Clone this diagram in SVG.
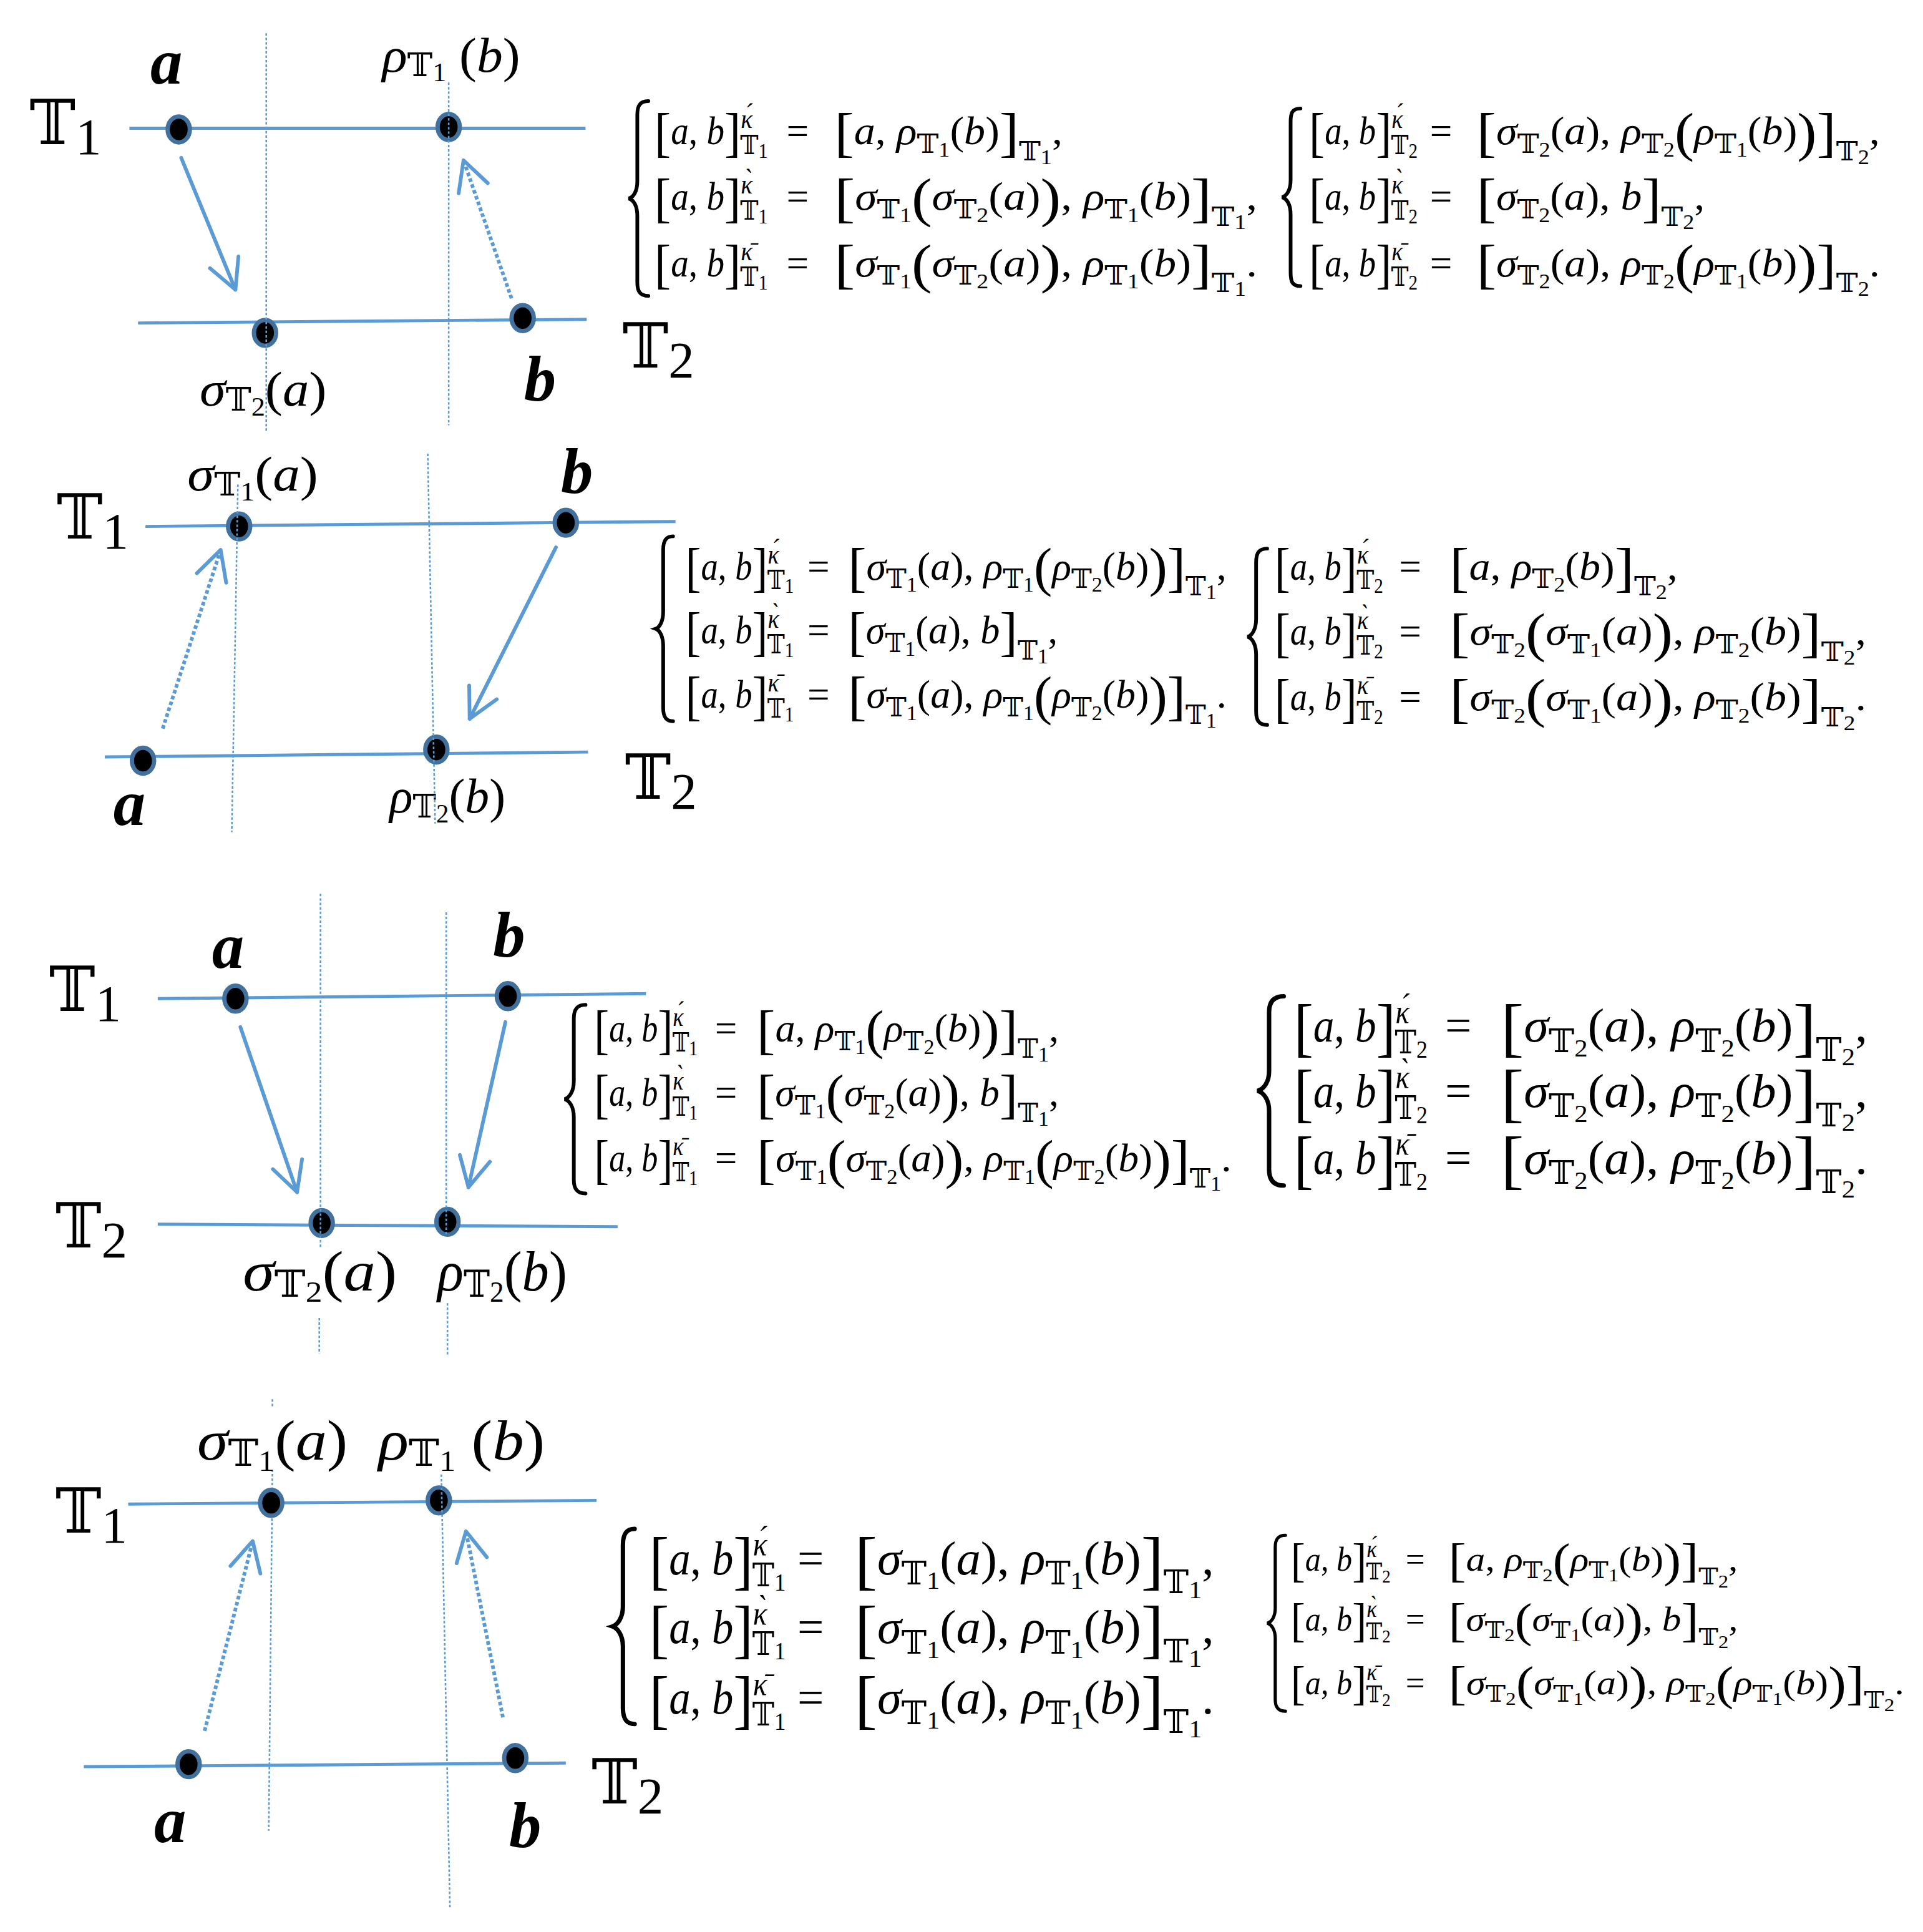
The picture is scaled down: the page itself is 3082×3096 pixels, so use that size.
<svg xmlns="http://www.w3.org/2000/svg" width="3082" height="3096" viewBox="0 0 3082 3096">
<defs>
<style>
.ln{stroke:#5b9bd5;stroke-width:2.5;fill:none}
.vd{stroke:#5b9bd5;stroke-width:1.3;stroke-dasharray:2 1.6;fill:none}
.ar{stroke:#5b9bd5;stroke-width:3;fill:none;stroke-linecap:round;marker-end:url(#ah)}
.ard{stroke:#5b9bd5;stroke-width:3;fill:none;stroke-dasharray:3 2;marker-end:url(#ah)}
.dot{fill:#000;stroke:#41719c;stroke-width:3.5}
.br{fill:none;stroke:#000;stroke-width:3;stroke-linecap:round}
.m{font-family:"Liberation Serif","DejaVu Serif","DejaVu Sans",serif;font-size:32px;fill:#000}
.i{font-style:italic}
.s{font-size:22px}
.ss{font-size:17px}
.B{font-size:44px}
.sc{font-size:22px}
.lab{font-family:"Liberation Serif","DejaVu Serif","DejaVu Sans",serif;font-size:40px;fill:#000}
.lab46{font-family:"Liberation Serif","DejaVu Serif","DejaVu Sans",serif;font-size:46px;fill:#000}
.ls{font-size:26px}
.lss{font-size:21px}
.ls46{font-size:30px}
.lss46{font-size:24px}
.lb{font-family:"Liberation Serif",serif;font-weight:bold;font-style:italic;font-size:52px;fill:#000}
.ax{font-family:"DejaVu Serif","DejaVu Sans",serif;font-size:50px;fill:#000}
.axd{font-family:"Liberation Serif",serif;font-size:42px}
</style>
<marker id="ah" markerUnits="userSpaceOnUse" orient="auto" refX="0" refY="0" markerWidth="60" markerHeight="60" viewBox="-30 -30 60 60" overflow="visible"><path d="M-24,-12.5 L0,0 L-24,12.5" fill="none" stroke="#5b9bd5" stroke-width="3" stroke-linecap="round" stroke-linejoin="round"/></marker>
</defs>
<rect width="3082" height="3096" fill="#fff"/>
<g id="diagram" transform="scale(1.97564)">
<g id="axes">
<line class="ln" x1="105" y1="104" x2="475" y2="104"/>
<line class="ln" x1="112" y1="262" x2="476" y2="259"/>
<line class="ln" x1="118" y1="427" x2="548" y2="423"/>
<line class="ln" x1="85" y1="614" x2="477" y2="610"/>
<line class="ln" x1="128" y1="810" x2="524" y2="806"/>
<line class="ln" x1="128" y1="993" x2="501" y2="995"/>
<line class="ln" x1="104" y1="1220" x2="484" y2="1217"/>
<line class="ln" x1="68" y1="1433" x2="459" y2="1430"/>
</g>
<g id="axis-labels">
<text class="ax" x="24" y="117">𝕋<tspan class="axd" dy="8">1</tspan></text>
<text class="ax" x="505" y="298">𝕋<tspan class="axd" dy="8">2</tspan></text>
<text class="ax" x="46" y="437">𝕋<tspan class="axd" dy="8">1</tspan></text>
<text class="ax" x="507" y="648">𝕋<tspan class="axd" dy="8">2</tspan></text>
<text class="ax" x="40" y="820">𝕋<tspan class="axd" dy="8">1</tspan></text>
<text class="ax" x="45" y="1012">𝕋<tspan class="axd" dy="8">2</tspan></text>
<text class="ax" x="45" y="1243">𝕋<tspan class="axd" dy="8">1</tspan></text>
<text class="ax" x="480" y="1463">𝕋<tspan class="axd" dy="8">2</tspan></text>
</g>
<g id="p4-guide-under"><line class="vd" x1="221" y1="1135" x2="221" y2="1141"/><line class="vd" x1="221" y1="1192" x2="218" y2="1485"/></g>
<g id="panel1">
<g id="p1-a"><ellipse class="dot" cx="145" cy="105" rx="9" ry="10.5"/><text class="lb" x="122" y="68">a</text></g>
<g id="p1-rho1b"><ellipse class="dot" cx="364" cy="103" rx="9" ry="10.5"/><text class="lab" x="310" y="58" textLength="112" lengthAdjust="spacingAndGlyphs"><tspan class="i">ρ</tspan><tspan class="ls" dy="4">𝕋</tspan><tspan class="lss" dy="4">1</tspan><tspan dy="-8"> (</tspan><tspan class="i">b</tspan>)</text></g>
<g id="p1-sigma2a"><ellipse class="dot" cx="215" cy="270" rx="9" ry="10.5"/><text class="lab" x="162" y="329" textLength="103" lengthAdjust="spacingAndGlyphs"><tspan class="i">σ</tspan><tspan class="ls" dy="4">𝕋</tspan><tspan class="lss" dy="4">2</tspan><tspan dy="-8">(</tspan><tspan class="i">a</tspan>)</text></g>
<g id="p1-b"><ellipse class="dot" cx="424" cy="258" rx="9" ry="10.5"/><text class="lb" x="425" y="325">b</text></g>
</g>
<g id="panel2">
<g id="p2-sigma1a"><ellipse class="dot" cx="194" cy="427" rx="9" ry="10.5"/><text class="lab" x="152" y="398" textLength="106" lengthAdjust="spacingAndGlyphs"><tspan class="i">σ</tspan><tspan class="ls" dy="4">𝕋</tspan><tspan class="lss" dy="4">1</tspan><tspan dy="-8">(</tspan><tspan class="i">a</tspan>)</text></g>
<g id="p2-b"><ellipse class="dot" cx="459" cy="424" rx="9" ry="10.5"/><text class="lb" x="455" y="400">b</text></g>
<g id="p2-a"><ellipse class="dot" cx="116" cy="617" rx="9" ry="10.5"/><text class="lb" x="92" y="669">a</text></g>
<g id="p2-rho2b"><ellipse class="dot" cx="354" cy="608" rx="9" ry="10.5"/><text class="lab" x="316" y="659" textLength="94" lengthAdjust="spacingAndGlyphs"><tspan class="i">ρ</tspan><tspan class="ls" dy="4">𝕋</tspan><tspan class="lss" dy="4">2</tspan><tspan dy="-8">(</tspan><tspan class="i">b</tspan>)</text></g>
</g>
<g id="panel3">
<g id="p3-a"><ellipse class="dot" cx="191" cy="810" rx="9" ry="10.5"/><text class="lb" x="172" y="785">a</text></g>
<g id="p3-b"><ellipse class="dot" cx="412" cy="808" rx="9" ry="10.5"/><text class="lb" x="400" y="776">b</text></g>
<g id="p3-sigma2a"><ellipse class="dot" cx="261" cy="992" rx="9" ry="10.5"/><text class="lab46" x="197" y="1047" textLength="125" lengthAdjust="spacingAndGlyphs"><tspan class="i">σ</tspan><tspan class="ls46" dy="5">𝕋</tspan><tspan class="lss46" dy="4">2</tspan><tspan dy="-9">(</tspan><tspan class="i">a</tspan>)</text></g>
<g id="p3-rho2b"><ellipse class="dot" cx="363" cy="991" rx="9" ry="10.5"/><text class="lab46" x="355" y="1047" textLength="105" lengthAdjust="spacingAndGlyphs"><tspan class="i">ρ</tspan><tspan class="ls46" dy="5">𝕋</tspan><tspan class="lss46" dy="4">2</tspan><tspan dy="-9">(</tspan><tspan class="i">b</tspan>)</text></g>
</g>
<g id="panel4">
<g id="p4-sigma1a"><ellipse class="dot" cx="220" cy="1219" rx="9" ry="10.5"/><text class="lab46" x="160" y="1184" textLength="122" lengthAdjust="spacingAndGlyphs"><tspan class="i">σ</tspan><tspan class="ls46" dy="5">𝕋</tspan><tspan class="lss46" dy="4">1</tspan><tspan dy="-9">(</tspan><tspan class="i">a</tspan>)</text></g>
<g id="p4-rho1b"><ellipse class="dot" cx="356" cy="1217" rx="9" ry="10.5"/><text class="lab46" x="307" y="1184" textLength="135" lengthAdjust="spacingAndGlyphs"><tspan class="i">ρ</tspan><tspan class="ls46" dy="5">𝕋</tspan><tspan class="lss46" dy="4">1</tspan><tspan dy="-9"> (</tspan><tspan class="i">b</tspan>)</text></g>
<g id="p4-a"><ellipse class="dot" cx="153" cy="1431" rx="9" ry="10.5"/><text class="lb" x="125" y="1494">a</text></g>
<g id="p4-b"><ellipse class="dot" cx="418" cy="1426" rx="9" ry="10.5"/><text class="lb" x="413" y="1498">b</text></g>
</g>
<g id="guides">
<line class="vd" x1="216" y1="27" x2="216" y2="350"/>
<line class="vd" x1="364" y1="67" x2="364" y2="345"/>
<line class="vd" x1="193" y1="393" x2="188" y2="675"/>
<line class="vd" x1="347" y1="368" x2="353" y2="668"/>
<line class="vd" x1="260" y1="725" x2="260" y2="1012"/>
<line class="vd" x1="259" y1="1069" x2="259" y2="1098"/>
<line class="vd" x1="362" y1="740" x2="362" y2="1002"/>
<line class="vd" x1="363" y1="1057" x2="363" y2="1100"/>
<line class="vd" x1="358" y1="1196" x2="365" y2="1547"/>
</g>
<g id="connectors">
<line class="ar" x1="147" y1="128" x2="191" y2="235"/>
<line class="ard" x1="415" y1="242" x2="376" y2="130"/>
<line class="ard" x1="132" y1="591" x2="179" y2="446"/>
<line class="ar" x1="451" y1="444" x2="381" y2="583"/>
<line class="ar" x1="195" y1="833" x2="241" y2="967"/>
<line class="ar" x1="410" y1="829" x2="380" y2="963"/>
<line class="ard" x1="166" y1="1404" x2="205" y2="1250"/>
<line class="ard" x1="408" y1="1393" x2="378" y2="1242"/>
</g>
<g id="equations">
<g id="eq-p1-t1" transform="translate(510,117)">
<path class="br" d="M16,-35 C9,-35 7,-31 7,-24 L7,30 C7,38 4,43 0,44 C4,45 7,50 7,58 L7,112 C7,119 9,123 16,123"/>
<text class="m" x="21" y="0" textLength="92" lengthAdjust="spacingAndGlyphs"><tspan class="B" dy="5">[</tspan><tspan class="i" dy="-5">a</tspan>, <tspan class="i">b</tspan><tspan class="B" dy="5">]</tspan><tspan class="sc i" dy="-18">κ&#x301;</tspan><tspan class="s" dx="-11" dy="21">𝕋</tspan><tspan class="ss" dy="3">1</tspan></text>
<text class="m" x="128" y="0">=</text>
<text class="m" x="167" y="0" textLength="185" lengthAdjust="spacingAndGlyphs"><tspan class="B" dy="5">[</tspan><tspan class="i" dy="-5">a</tspan>, <tspan class="i">ρ</tspan><tspan class="s" dy="7">𝕋</tspan><tspan class="ss" dy="3">1</tspan><tspan dy="-10">(</tspan><tspan class="i">b</tspan>)<tspan class="B" dy="5">]</tspan><tspan class="s" dy="8">𝕋</tspan><tspan class="ss" dy="3">1</tspan><tspan dy="-16">,</tspan></text>
<text class="m" x="21" y="53" textLength="92" lengthAdjust="spacingAndGlyphs"><tspan class="B" dy="5">[</tspan><tspan class="i" dy="-5">a</tspan>, <tspan class="i">b</tspan><tspan class="B" dy="5">]</tspan><tspan class="sc i" dy="-18">κ&#x300;</tspan><tspan class="s" dx="-11" dy="21">𝕋</tspan><tspan class="ss" dy="3">1</tspan></text>
<text class="m" x="128" y="53">=</text>
<text class="m" x="167" y="53" textLength="343" lengthAdjust="spacingAndGlyphs"><tspan class="B" dy="5">[</tspan><tspan class="i" dy="-5">σ</tspan><tspan class="s" dy="7">𝕋</tspan><tspan class="ss" dy="3">1</tspan><tspan class="B" dy="-5">(</tspan><tspan class="i" dy="-5">σ</tspan><tspan class="s" dy="7">𝕋</tspan><tspan class="ss" dy="3">2</tspan><tspan dy="-10">(</tspan><tspan class="i">a</tspan>)<tspan class="B" dy="5">)</tspan><tspan dy="-5">, </tspan><tspan class="i">ρ</tspan><tspan class="s" dy="7">𝕋</tspan><tspan class="ss" dy="3">1</tspan><tspan dy="-10">(</tspan><tspan class="i">b</tspan>)<tspan class="B" dy="5">]</tspan><tspan class="s" dy="8">𝕋</tspan><tspan class="ss" dy="3">1</tspan><tspan dy="-16">,</tspan></text>
<text class="m" x="21" y="107" textLength="92" lengthAdjust="spacingAndGlyphs"><tspan class="B" dy="5">[</tspan><tspan class="i" dy="-5">a</tspan>, <tspan class="i">b</tspan><tspan class="B" dy="5">]</tspan><tspan class="sc i" dy="-18">κ&#x304;</tspan><tspan class="s" dx="-11" dy="21">𝕋</tspan><tspan class="ss" dy="3">1</tspan></text>
<text class="m" x="128" y="107">=</text>
<text class="m" x="167" y="107" textLength="343" lengthAdjust="spacingAndGlyphs"><tspan class="B" dy="5">[</tspan><tspan class="i" dy="-5">σ</tspan><tspan class="s" dy="7">𝕋</tspan><tspan class="ss" dy="3">1</tspan><tspan class="B" dy="-5">(</tspan><tspan class="i" dy="-5">σ</tspan><tspan class="s" dy="7">𝕋</tspan><tspan class="ss" dy="3">2</tspan><tspan dy="-10">(</tspan><tspan class="i">a</tspan>)<tspan class="B" dy="5">)</tspan><tspan dy="-5">, </tspan><tspan class="i">ρ</tspan><tspan class="s" dy="7">𝕋</tspan><tspan class="ss" dy="3">1</tspan><tspan dy="-10">(</tspan><tspan class="i">b</tspan>)<tspan class="B" dy="5">]</tspan><tspan class="s" dy="8">𝕋</tspan><tspan class="ss" dy="3">1</tspan><tspan dy="-16">.</tspan></text>
</g>
<g id="eq-p1-t2" transform="translate(1040,117)">
<path class="br" d="M15,-29 C8,-29 7,-25 7,-18 L7,29 C7,37 4,42 0,43 C4,44 7,49 7,57 L7,104 C7,111 8,115 15,115"/>
<text class="m" x="22" y="0" textLength="88" lengthAdjust="spacingAndGlyphs"><tspan class="B" dy="5">[</tspan><tspan class="i" dy="-5">a</tspan>, <tspan class="i">b</tspan><tspan class="B" dy="5">]</tspan><tspan class="sc i" dy="-18">κ&#x301;</tspan><tspan class="s" dx="-11" dy="21">𝕋</tspan><tspan class="ss" dy="3">2</tspan></text>
<text class="m" x="120" y="0">=</text>
<text class="m" x="158" y="0" textLength="327" lengthAdjust="spacingAndGlyphs"><tspan class="B" dy="5">[</tspan><tspan class="i" dy="-5">σ</tspan><tspan class="s" dy="7">𝕋</tspan><tspan class="ss" dy="3">2</tspan><tspan dy="-10">(</tspan><tspan class="i">a</tspan>), <tspan class="i">ρ</tspan><tspan class="s" dy="7">𝕋</tspan><tspan class="ss" dy="3">2</tspan><tspan class="B" dy="-5">(</tspan><tspan class="i" dy="-5">ρ</tspan><tspan class="s" dy="7">𝕋</tspan><tspan class="ss" dy="3">1</tspan><tspan dy="-10">(</tspan><tspan class="i">b</tspan>)<tspan class="B" dy="5">)</tspan><tspan class="B">]</tspan><tspan class="s" dy="8">𝕋</tspan><tspan class="ss" dy="3">2</tspan><tspan dy="-16">,</tspan></text>
<text class="m" x="22" y="53" textLength="88" lengthAdjust="spacingAndGlyphs"><tspan class="B" dy="5">[</tspan><tspan class="i" dy="-5">a</tspan>, <tspan class="i">b</tspan><tspan class="B" dy="5">]</tspan><tspan class="sc i" dy="-18">κ&#x300;</tspan><tspan class="s" dx="-11" dy="21">𝕋</tspan><tspan class="ss" dy="3">2</tspan></text>
<text class="m" x="120" y="53">=</text>
<text class="m" x="158" y="53" textLength="185" lengthAdjust="spacingAndGlyphs"><tspan class="B" dy="5">[</tspan><tspan class="i" dy="-5">σ</tspan><tspan class="s" dy="7">𝕋</tspan><tspan class="ss" dy="3">2</tspan><tspan dy="-10">(</tspan><tspan class="i">a</tspan>), <tspan class="i">b</tspan><tspan class="B" dy="5">]</tspan><tspan class="s" dy="8">𝕋</tspan><tspan class="ss" dy="3">2</tspan><tspan dy="-16">,</tspan></text>
<text class="m" x="22" y="107" textLength="88" lengthAdjust="spacingAndGlyphs"><tspan class="B" dy="5">[</tspan><tspan class="i" dy="-5">a</tspan>, <tspan class="i">b</tspan><tspan class="B" dy="5">]</tspan><tspan class="sc i" dy="-18">κ&#x304;</tspan><tspan class="s" dx="-11" dy="21">𝕋</tspan><tspan class="ss" dy="3">2</tspan></text>
<text class="m" x="120" y="107">=</text>
<text class="m" x="158" y="107" textLength="327" lengthAdjust="spacingAndGlyphs"><tspan class="B" dy="5">[</tspan><tspan class="i" dy="-5">σ</tspan><tspan class="s" dy="7">𝕋</tspan><tspan class="ss" dy="3">2</tspan><tspan dy="-10">(</tspan><tspan class="i">a</tspan>), <tspan class="i">ρ</tspan><tspan class="s" dy="7">𝕋</tspan><tspan class="ss" dy="3">2</tspan><tspan class="B" dy="-5">(</tspan><tspan class="i" dy="-5">ρ</tspan><tspan class="s" dy="7">𝕋</tspan><tspan class="ss" dy="3">1</tspan><tspan dy="-10">(</tspan><tspan class="i">b</tspan>)<tspan class="B" dy="5">)</tspan><tspan class="B">]</tspan><tspan class="s" dy="8">𝕋</tspan><tspan class="ss" dy="3">2</tspan><tspan dy="-16">.</tspan></text>
</g>
<g id="eq-p2-t1" transform="translate(532,470)">
<path class="br" d="M14,-35 C8,-35 6,-31 6,-24 L6,26 C6,34 3,39 0,40 C3,41 6,46 6,54 L6,104 C6,111 8,115 14,115"/>
<text class="m" x="24" y="0" textLength="88" lengthAdjust="spacingAndGlyphs"><tspan class="B" dy="5">[</tspan><tspan class="i" dy="-5">a</tspan>, <tspan class="i">b</tspan><tspan class="B" dy="5">]</tspan><tspan class="sc i" dy="-18">κ&#x301;</tspan><tspan class="s" dx="-11" dy="21">𝕋</tspan><tspan class="ss" dy="3">1</tspan></text>
<text class="m" x="123" y="0">=</text>
<text class="m" x="156" y="0" textLength="307" lengthAdjust="spacingAndGlyphs"><tspan class="B" dy="5">[</tspan><tspan class="i" dy="-5">σ</tspan><tspan class="s" dy="7">𝕋</tspan><tspan class="ss" dy="3">1</tspan><tspan dy="-10">(</tspan><tspan class="i">a</tspan>), <tspan class="i">ρ</tspan><tspan class="s" dy="7">𝕋</tspan><tspan class="ss" dy="3">1</tspan><tspan class="B" dy="-5">(</tspan><tspan class="i" dy="-5">ρ</tspan><tspan class="s" dy="7">𝕋</tspan><tspan class="ss" dy="3">2</tspan><tspan dy="-10">(</tspan><tspan class="i">b</tspan>)<tspan class="B" dy="5">)</tspan><tspan class="B">]</tspan><tspan class="s" dy="8">𝕋</tspan><tspan class="ss" dy="3">1</tspan><tspan dy="-16">,</tspan></text>
<text class="m" x="24" y="52" textLength="88" lengthAdjust="spacingAndGlyphs"><tspan class="B" dy="5">[</tspan><tspan class="i" dy="-5">a</tspan>, <tspan class="i">b</tspan><tspan class="B" dy="5">]</tspan><tspan class="sc i" dy="-18">κ&#x300;</tspan><tspan class="s" dx="-11" dy="21">𝕋</tspan><tspan class="ss" dy="3">1</tspan></text>
<text class="m" x="123" y="52">=</text>
<text class="m" x="156" y="52" textLength="170" lengthAdjust="spacingAndGlyphs"><tspan class="B" dy="5">[</tspan><tspan class="i" dy="-5">σ</tspan><tspan class="s" dy="7">𝕋</tspan><tspan class="ss" dy="3">1</tspan><tspan dy="-10">(</tspan><tspan class="i">a</tspan>), <tspan class="i">b</tspan><tspan class="B" dy="5">]</tspan><tspan class="s" dy="8">𝕋</tspan><tspan class="ss" dy="3">1</tspan><tspan dy="-16">,</tspan></text>
<text class="m" x="24" y="104" textLength="88" lengthAdjust="spacingAndGlyphs"><tspan class="B" dy="5">[</tspan><tspan class="i" dy="-5">a</tspan>, <tspan class="i">b</tspan><tspan class="B" dy="5">]</tspan><tspan class="sc i" dy="-18">κ&#x304;</tspan><tspan class="s" dx="-11" dy="21">𝕋</tspan><tspan class="ss" dy="3">1</tspan></text>
<text class="m" x="123" y="104">=</text>
<text class="m" x="156" y="104" textLength="307" lengthAdjust="spacingAndGlyphs"><tspan class="B" dy="5">[</tspan><tspan class="i" dy="-5">σ</tspan><tspan class="s" dy="7">𝕋</tspan><tspan class="ss" dy="3">1</tspan><tspan dy="-10">(</tspan><tspan class="i">a</tspan>), <tspan class="i">ρ</tspan><tspan class="s" dy="7">𝕋</tspan><tspan class="ss" dy="3">1</tspan><tspan class="B" dy="-5">(</tspan><tspan class="i" dy="-5">ρ</tspan><tspan class="s" dy="7">𝕋</tspan><tspan class="ss" dy="3">2</tspan><tspan dy="-10">(</tspan><tspan class="i">b</tspan>)<tspan class="B" dy="5">)</tspan><tspan class="B">]</tspan><tspan class="s" dy="8">𝕋</tspan><tspan class="ss" dy="3">1</tspan><tspan dy="-16">.</tspan></text>
</g>
<g id="eq-p2-t2" transform="translate(1012,470)">
<path class="br" d="M16,-25 C9,-25 7,-21 7,-14 L7,32 C7,40 4,45.5 0,46.5 C4,47.5 7,53 7,61 L7,107 C7,114 9,118 16,118"/>
<text class="m" x="22" y="0" textLength="88" lengthAdjust="spacingAndGlyphs"><tspan class="B" dy="5">[</tspan><tspan class="i" dy="-5">a</tspan>, <tspan class="i">b</tspan><tspan class="B" dy="5">]</tspan><tspan class="sc i" dy="-18">κ&#x301;</tspan><tspan class="s" dx="-11" dy="21">𝕋</tspan><tspan class="ss" dy="3">2</tspan></text>
<text class="m" x="123" y="0">=</text>
<text class="m" x="164" y="0" textLength="185" lengthAdjust="spacingAndGlyphs"><tspan class="B" dy="5">[</tspan><tspan class="i" dy="-5">a</tspan>, <tspan class="i">ρ</tspan><tspan class="s" dy="7">𝕋</tspan><tspan class="ss" dy="3">2</tspan><tspan dy="-10">(</tspan><tspan class="i">b</tspan>)<tspan class="B" dy="5">]</tspan><tspan class="s" dy="8">𝕋</tspan><tspan class="ss" dy="3">2</tspan><tspan dy="-16">,</tspan></text>
<text class="m" x="22" y="53" textLength="88" lengthAdjust="spacingAndGlyphs"><tspan class="B" dy="5">[</tspan><tspan class="i" dy="-5">a</tspan>, <tspan class="i">b</tspan><tspan class="B" dy="5">]</tspan><tspan class="sc i" dy="-18">κ&#x300;</tspan><tspan class="s" dx="-11" dy="21">𝕋</tspan><tspan class="ss" dy="3">2</tspan></text>
<text class="m" x="123" y="53">=</text>
<text class="m" x="164" y="53" textLength="338" lengthAdjust="spacingAndGlyphs"><tspan class="B" dy="5">[</tspan><tspan class="i" dy="-5">σ</tspan><tspan class="s" dy="7">𝕋</tspan><tspan class="ss" dy="3">2</tspan><tspan class="B" dy="-5">(</tspan><tspan class="i" dy="-5">σ</tspan><tspan class="s" dy="7">𝕋</tspan><tspan class="ss" dy="3">1</tspan><tspan dy="-10">(</tspan><tspan class="i">a</tspan>)<tspan class="B" dy="5">)</tspan><tspan dy="-5">, </tspan><tspan class="i">ρ</tspan><tspan class="s" dy="7">𝕋</tspan><tspan class="ss" dy="3">2</tspan><tspan dy="-10">(</tspan><tspan class="i">b</tspan>)<tspan class="B" dy="5">]</tspan><tspan class="s" dy="8">𝕋</tspan><tspan class="ss" dy="3">2</tspan><tspan dy="-16">,</tspan></text>
<text class="m" x="22" y="106" textLength="88" lengthAdjust="spacingAndGlyphs"><tspan class="B" dy="5">[</tspan><tspan class="i" dy="-5">a</tspan>, <tspan class="i">b</tspan><tspan class="B" dy="5">]</tspan><tspan class="sc i" dy="-18">κ&#x304;</tspan><tspan class="s" dx="-11" dy="21">𝕋</tspan><tspan class="ss" dy="3">2</tspan></text>
<text class="m" x="123" y="106">=</text>
<text class="m" x="164" y="106" textLength="338" lengthAdjust="spacingAndGlyphs"><tspan class="B" dy="5">[</tspan><tspan class="i" dy="-5">σ</tspan><tspan class="s" dy="7">𝕋</tspan><tspan class="ss" dy="3">2</tspan><tspan class="B" dy="-5">(</tspan><tspan class="i" dy="-5">σ</tspan><tspan class="s" dy="7">𝕋</tspan><tspan class="ss" dy="3">1</tspan><tspan dy="-10">(</tspan><tspan class="i">a</tspan>)<tspan class="B" dy="5">)</tspan><tspan dy="-5">, </tspan><tspan class="i">ρ</tspan><tspan class="s" dy="7">𝕋</tspan><tspan class="ss" dy="3">2</tspan><tspan dy="-10">(</tspan><tspan class="i">b</tspan>)<tspan class="B" dy="5">]</tspan><tspan class="s" dy="8">𝕋</tspan><tspan class="ss" dy="3">2</tspan><tspan dy="-16">.</tspan></text>
</g>
<g id="eq-p3-t1" transform="translate(458,845)">
<path class="br" d="M17,-30 C10,-30 7.5,-26 7.5,-19 L7.5,32 C7.5,40 4,45.5 0,46.5 C4,47.5 7.5,53 7.5,61 L7.5,112 C7.5,119 10,123 17,123"/>
<text class="m" x="24" y="0" textLength="84" lengthAdjust="spacingAndGlyphs"><tspan class="B" dy="5">[</tspan><tspan class="i" dy="-5">a</tspan>, <tspan class="i">b</tspan><tspan class="B" dy="5">]</tspan><tspan class="sc i" dy="-18">κ&#x301;</tspan><tspan class="s" dx="-11" dy="21">𝕋</tspan><tspan class="ss" dy="3">1</tspan></text>
<text class="m" x="122" y="0">=</text>
<text class="m" x="156" y="0" textLength="245" lengthAdjust="spacingAndGlyphs"><tspan class="B" dy="5">[</tspan><tspan class="i" dy="-5">a</tspan>, <tspan class="i">ρ</tspan><tspan class="s" dy="7">𝕋</tspan><tspan class="ss" dy="3">1</tspan><tspan class="B" dy="-5">(</tspan><tspan class="i" dy="-5">ρ</tspan><tspan class="s" dy="7">𝕋</tspan><tspan class="ss" dy="3">2</tspan><tspan dy="-10">(</tspan><tspan class="i">b</tspan>)<tspan class="B" dy="5">)</tspan><tspan class="B">]</tspan><tspan class="s" dy="8">𝕋</tspan><tspan class="ss" dy="3">1</tspan><tspan dy="-16">,</tspan></text>
<text class="m" x="24" y="52" textLength="84" lengthAdjust="spacingAndGlyphs"><tspan class="B" dy="5">[</tspan><tspan class="i" dy="-5">a</tspan>, <tspan class="i">b</tspan><tspan class="B" dy="5">]</tspan><tspan class="sc i" dy="-18">κ&#x300;</tspan><tspan class="s" dx="-11" dy="21">𝕋</tspan><tspan class="ss" dy="3">1</tspan></text>
<text class="m" x="122" y="52">=</text>
<text class="m" x="156" y="52" textLength="245" lengthAdjust="spacingAndGlyphs"><tspan class="B" dy="5">[</tspan><tspan class="i" dy="-5">σ</tspan><tspan class="s" dy="7">𝕋</tspan><tspan class="ss" dy="3">1</tspan><tspan class="B" dy="-5">(</tspan><tspan class="i" dy="-5">σ</tspan><tspan class="s" dy="7">𝕋</tspan><tspan class="ss" dy="3">2</tspan><tspan dy="-10">(</tspan><tspan class="i">a</tspan>)<tspan class="B" dy="5">)</tspan><tspan dy="-5">, </tspan><tspan class="i">b</tspan><tspan class="B" dy="5">]</tspan><tspan class="s" dy="8">𝕋</tspan><tspan class="ss" dy="3">1</tspan><tspan dy="-16">,</tspan></text>
<text class="m" x="24" y="105" textLength="84" lengthAdjust="spacingAndGlyphs"><tspan class="B" dy="5">[</tspan><tspan class="i" dy="-5">a</tspan>, <tspan class="i">b</tspan><tspan class="B" dy="5">]</tspan><tspan class="sc i" dy="-18">κ&#x304;</tspan><tspan class="s" dx="-11" dy="21">𝕋</tspan><tspan class="ss" dy="3">1</tspan></text>
<text class="m" x="122" y="105">=</text>
<text class="m" x="156" y="105" textLength="385" lengthAdjust="spacingAndGlyphs"><tspan class="B" dy="5">[</tspan><tspan class="i" dy="-5">σ</tspan><tspan class="s" dy="7">𝕋</tspan><tspan class="ss" dy="3">1</tspan><tspan class="B" dy="-5">(</tspan><tspan class="i" dy="-5">σ</tspan><tspan class="s" dy="7">𝕋</tspan><tspan class="ss" dy="3">2</tspan><tspan dy="-10">(</tspan><tspan class="i">a</tspan>)<tspan class="B" dy="5">)</tspan><tspan dy="-5">, </tspan><tspan class="i">ρ</tspan><tspan class="s" dy="7">𝕋</tspan><tspan class="ss" dy="3">1</tspan><tspan class="B" dy="-5">(</tspan><tspan class="i" dy="-5">ρ</tspan><tspan class="s" dy="7">𝕋</tspan><tspan class="ss" dy="3">2</tspan><tspan dy="-10">(</tspan><tspan class="i">b</tspan>)<tspan class="B" dy="5">)</tspan><tspan class="B">]</tspan><tspan class="s" dy="8">𝕋</tspan><tspan class="ss" dy="3">1</tspan><tspan dy="-16">.</tspan></text>
</g>
<g id="eq-p3-t2" transform="translate(1020,845) scale(1.19)">
<path class="br" d="M18,-31 C11,-31 8,-27 8,-20 L8,20 C8,28 4,32.5 0,33.5 C4,34.5 8,39 8,47 L8,87 C8,94 11,98 18,98"/>
<text class="m" x="25" y="0" textLength="91" lengthAdjust="spacingAndGlyphs"><tspan class="B" dy="5">[</tspan><tspan class="i" dy="-5">a</tspan>, <tspan class="i">b</tspan><tspan class="B" dy="5">]</tspan><tspan class="sc i" dy="-18">κ&#x301;</tspan><tspan class="s" dx="-11" dy="21">𝕋</tspan><tspan class="ss" dy="3">2</tspan></text>
<text class="m" x="128" y="0">=</text>
<text class="m" x="166" y="0" textLength="250" lengthAdjust="spacingAndGlyphs"><tspan class="B" dy="5">[</tspan><tspan class="i" dy="-5">σ</tspan><tspan class="s" dy="7">𝕋</tspan><tspan class="ss" dy="3">2</tspan><tspan dy="-10">(</tspan><tspan class="i">a</tspan>), <tspan class="i">ρ</tspan><tspan class="s" dy="7">𝕋</tspan><tspan class="ss" dy="3">2</tspan><tspan dy="-10">(</tspan><tspan class="i">b</tspan>)<tspan class="B" dy="5">]</tspan><tspan class="s" dy="8">𝕋</tspan><tspan class="ss" dy="3">2</tspan><tspan dy="-16">,</tspan></text>
<text class="m" x="25" y="44.5" textLength="91" lengthAdjust="spacingAndGlyphs"><tspan class="B" dy="5">[</tspan><tspan class="i" dy="-5">a</tspan>, <tspan class="i">b</tspan><tspan class="B" dy="5">]</tspan><tspan class="sc i" dy="-18">κ&#x300;</tspan><tspan class="s" dx="-11" dy="21">𝕋</tspan><tspan class="ss" dy="3">2</tspan></text>
<text class="m" x="128" y="44.5">=</text>
<text class="m" x="166" y="44.5" textLength="250" lengthAdjust="spacingAndGlyphs"><tspan class="B" dy="5">[</tspan><tspan class="i" dy="-5">σ</tspan><tspan class="s" dy="7">𝕋</tspan><tspan class="ss" dy="3">2</tspan><tspan dy="-10">(</tspan><tspan class="i">a</tspan>), <tspan class="i">ρ</tspan><tspan class="s" dy="7">𝕋</tspan><tspan class="ss" dy="3">2</tspan><tspan dy="-10">(</tspan><tspan class="i">b</tspan>)<tspan class="B" dy="5">]</tspan><tspan class="s" dy="8">𝕋</tspan><tspan class="ss" dy="3">2</tspan><tspan dy="-16">,</tspan></text>
<text class="m" x="25" y="90" textLength="91" lengthAdjust="spacingAndGlyphs"><tspan class="B" dy="5">[</tspan><tspan class="i" dy="-5">a</tspan>, <tspan class="i">b</tspan><tspan class="B" dy="5">]</tspan><tspan class="sc i" dy="-18">κ&#x304;</tspan><tspan class="s" dx="-11" dy="21">𝕋</tspan><tspan class="ss" dy="3">2</tspan></text>
<text class="m" x="128" y="90">=</text>
<text class="m" x="166" y="90" textLength="250" lengthAdjust="spacingAndGlyphs"><tspan class="B" dy="5">[</tspan><tspan class="i" dy="-5">σ</tspan><tspan class="s" dy="7">𝕋</tspan><tspan class="ss" dy="3">2</tspan><tspan dy="-10">(</tspan><tspan class="i">a</tspan>), <tspan class="i">ρ</tspan><tspan class="s" dy="7">𝕋</tspan><tspan class="ss" dy="3">2</tspan><tspan dy="-10">(</tspan><tspan class="i">b</tspan>)<tspan class="B" dy="5">]</tspan><tspan class="s" dy="8">𝕋</tspan><tspan class="ss" dy="3">2</tspan><tspan dy="-16">.</tspan></text>
</g>
<g id="eq-p4-t1" transform="translate(497,1277) scale(1.19)">
<path class="br" d="M15,-31 C9,-31 7,-27 7,-20 L7,22 C7,30 3,34.5 0,35.5 C3,36.5 7,41 7,49 L7,91 C7,98 9,102 15,102"/>
<text class="m" x="25" y="0" textLength="93" lengthAdjust="spacingAndGlyphs"><tspan class="B" dy="5">[</tspan><tspan class="i" dy="-5">a</tspan>, <tspan class="i">b</tspan><tspan class="B" dy="5">]</tspan><tspan class="sc i" dy="-18">κ&#x301;</tspan><tspan class="s" dx="-11" dy="21">𝕋</tspan><tspan class="ss" dy="3">1</tspan></text>
<text class="m" x="126" y="0">=</text>
<text class="m" x="165" y="0" textLength="245" lengthAdjust="spacingAndGlyphs"><tspan class="B" dy="5">[</tspan><tspan class="i" dy="-5">σ</tspan><tspan class="s" dy="7">𝕋</tspan><tspan class="ss" dy="3">1</tspan><tspan dy="-10">(</tspan><tspan class="i">a</tspan>), <tspan class="i">ρ</tspan><tspan class="s" dy="7">𝕋</tspan><tspan class="ss" dy="3">1</tspan><tspan dy="-10">(</tspan><tspan class="i">b</tspan>)<tspan class="B" dy="5">]</tspan><tspan class="s" dy="8">𝕋</tspan><tspan class="ss" dy="3">1</tspan><tspan dy="-16">,</tspan></text>
<text class="m" x="25" y="47" textLength="93" lengthAdjust="spacingAndGlyphs"><tspan class="B" dy="5">[</tspan><tspan class="i" dy="-5">a</tspan>, <tspan class="i">b</tspan><tspan class="B" dy="5">]</tspan><tspan class="sc i" dy="-18">κ&#x300;</tspan><tspan class="s" dx="-11" dy="21">𝕋</tspan><tspan class="ss" dy="3">1</tspan></text>
<text class="m" x="126" y="47">=</text>
<text class="m" x="165" y="47" textLength="245" lengthAdjust="spacingAndGlyphs"><tspan class="B" dy="5">[</tspan><tspan class="i" dy="-5">σ</tspan><tspan class="s" dy="7">𝕋</tspan><tspan class="ss" dy="3">1</tspan><tspan dy="-10">(</tspan><tspan class="i">a</tspan>), <tspan class="i">ρ</tspan><tspan class="s" dy="7">𝕋</tspan><tspan class="ss" dy="3">1</tspan><tspan dy="-10">(</tspan><tspan class="i">b</tspan>)<tspan class="B" dy="5">]</tspan><tspan class="s" dy="8">𝕋</tspan><tspan class="ss" dy="3">1</tspan><tspan dy="-16">,</tspan></text>
<text class="m" x="25" y="95" textLength="93" lengthAdjust="spacingAndGlyphs"><tspan class="B" dy="5">[</tspan><tspan class="i" dy="-5">a</tspan>, <tspan class="i">b</tspan><tspan class="B" dy="5">]</tspan><tspan class="sc i" dy="-18">κ&#x304;</tspan><tspan class="s" dx="-11" dy="21">𝕋</tspan><tspan class="ss" dy="3">1</tspan></text>
<text class="m" x="126" y="95">=</text>
<text class="m" x="165" y="95" textLength="245" lengthAdjust="spacingAndGlyphs"><tspan class="B" dy="5">[</tspan><tspan class="i" dy="-5">σ</tspan><tspan class="s" dy="7">𝕋</tspan><tspan class="ss" dy="3">1</tspan><tspan dy="-10">(</tspan><tspan class="i">a</tspan>), <tspan class="i">ρ</tspan><tspan class="s" dy="7">𝕋</tspan><tspan class="ss" dy="3">1</tspan><tspan dy="-10">(</tspan><tspan class="i">b</tspan>)<tspan class="B" dy="5">]</tspan><tspan class="s" dy="8">𝕋</tspan><tspan class="ss" dy="3">1</tspan><tspan dy="-16">.</tspan></text>
</g>
<g id="eq-p4-t2" transform="translate(1028,1274) scale(0.87)">
<path class="br" d="M17,-33 C10,-33 7.5,-29 7.5,-22 L7.5,35 C7.5,43 4,48 0,49 C4,50 7.5,55 7.5,63 L7.5,120 C7.5,127 10,131 17,131"/>
<text class="m" x="22" y="0" textLength="93" lengthAdjust="spacingAndGlyphs"><tspan class="B" dy="5">[</tspan><tspan class="i" dy="-5">a</tspan>, <tspan class="i">b</tspan><tspan class="B" dy="5">]</tspan><tspan class="sc i" dy="-18">κ&#x301;</tspan><tspan class="s" dx="-11" dy="21">𝕋</tspan><tspan class="ss" dy="3">2</tspan></text>
<text class="m" x="129" y="0">=</text>
<text class="m" x="169" y="0" textLength="270" lengthAdjust="spacingAndGlyphs"><tspan class="B" dy="5">[</tspan><tspan class="i" dy="-5">a</tspan>, <tspan class="i">ρ</tspan><tspan class="s" dy="7">𝕋</tspan><tspan class="ss" dy="3">2</tspan><tspan class="B" dy="-5">(</tspan><tspan class="i" dy="-5">ρ</tspan><tspan class="s" dy="7">𝕋</tspan><tspan class="ss" dy="3">1</tspan><tspan dy="-10">(</tspan><tspan class="i">b</tspan>)<tspan class="B" dy="5">)</tspan><tspan class="B">]</tspan><tspan class="s" dy="8">𝕋</tspan><tspan class="ss" dy="3">2</tspan><tspan dy="-16">,</tspan></text>
<text class="m" x="22" y="56" textLength="93" lengthAdjust="spacingAndGlyphs"><tspan class="B" dy="5">[</tspan><tspan class="i" dy="-5">a</tspan>, <tspan class="i">b</tspan><tspan class="B" dy="5">]</tspan><tspan class="sc i" dy="-18">κ&#x300;</tspan><tspan class="s" dx="-11" dy="21">𝕋</tspan><tspan class="ss" dy="3">2</tspan></text>
<text class="m" x="129" y="56">=</text>
<text class="m" x="169" y="56" textLength="270" lengthAdjust="spacingAndGlyphs"><tspan class="B" dy="5">[</tspan><tspan class="i" dy="-5">σ</tspan><tspan class="s" dy="7">𝕋</tspan><tspan class="ss" dy="3">2</tspan><tspan class="B" dy="-5">(</tspan><tspan class="i" dy="-5">σ</tspan><tspan class="s" dy="7">𝕋</tspan><tspan class="ss" dy="3">1</tspan><tspan dy="-10">(</tspan><tspan class="i">a</tspan>)<tspan class="B" dy="5">)</tspan><tspan dy="-5">, </tspan><tspan class="i">b</tspan><tspan class="B" dy="5">]</tspan><tspan class="s" dy="8">𝕋</tspan><tspan class="ss" dy="3">2</tspan><tspan dy="-16">,</tspan></text>
<text class="m" x="22" y="115" textLength="93" lengthAdjust="spacingAndGlyphs"><tspan class="B" dy="5">[</tspan><tspan class="i" dy="-5">a</tspan>, <tspan class="i">b</tspan><tspan class="B" dy="5">]</tspan><tspan class="sc i" dy="-18">κ&#x304;</tspan><tspan class="s" dx="-11" dy="21">𝕋</tspan><tspan class="ss" dy="3">2</tspan></text>
<text class="m" x="129" y="115">=</text>
<text class="m" x="169" y="115" textLength="425" lengthAdjust="spacingAndGlyphs"><tspan class="B" dy="5">[</tspan><tspan class="i" dy="-5">σ</tspan><tspan class="s" dy="7">𝕋</tspan><tspan class="ss" dy="3">2</tspan><tspan class="B" dy="-5">(</tspan><tspan class="i" dy="-5">σ</tspan><tspan class="s" dy="7">𝕋</tspan><tspan class="ss" dy="3">1</tspan><tspan dy="-10">(</tspan><tspan class="i">a</tspan>)<tspan class="B" dy="5">)</tspan><tspan dy="-5">, </tspan><tspan class="i">ρ</tspan><tspan class="s" dy="7">𝕋</tspan><tspan class="ss" dy="3">2</tspan><tspan class="B" dy="-5">(</tspan><tspan class="i" dy="-5">ρ</tspan><tspan class="s" dy="7">𝕋</tspan><tspan class="ss" dy="3">1</tspan><tspan dy="-10">(</tspan><tspan class="i">b</tspan>)<tspan class="B" dy="5">)</tspan><tspan class="B">]</tspan><tspan class="s" dy="8">𝕋</tspan><tspan class="ss" dy="3">2</tspan><tspan dy="-16">.</tspan></text>
</g>
</g>
</g>
</svg>
